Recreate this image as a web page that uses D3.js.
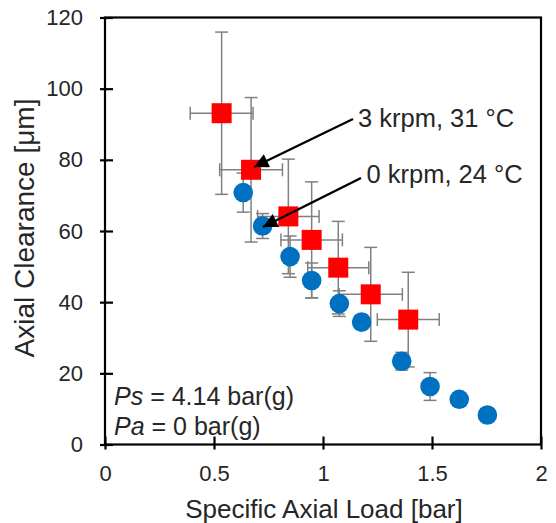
<!DOCTYPE html>
<html>
<head>
<meta charset="utf-8">
<script src="https://cdn.jsdelivr.net/npm/d3@7"></script>
<style>
  body { margin: 0; background: #fff; }
  text { font-family: "Liberation Sans", Arial, sans-serif; fill: #262626; }
  .axis path { display: none; }
  .axis line { stroke: #000; stroke-width: 2.2; }
</style>
</head>
<body>
<svg id="chart" width="556" height="523"></svg>
<script>
// tick labels
var xTicks = [0, 0.5, 1, 1.5, 2];
var yTicks = [0, 20, 40, 60, 80, 100, 120];

// 3 krpm, 31 °C (red squares)
var hotX    = [0.535, 0.670, 0.841, 0.948, 1.070, 1.219, 1.391];
var hotY    = [93.1, 77.2, 64.1, 57.5, 49.7, 42.2, 35.1];
var hotXErr = [0.144, 0.144, 0.141, 0.141, 0.140, 0.145, 0.142];
var hotYErr = [22.8, 20.3, 16.1, 16.3, 13.0, 13.2, 13.3];

// 0 krpm, 24 °C (blue circles)
var coldX    = [0.634, 0.723, 0.849, 0.948, 1.075, 1.177, 1.361, 1.491, 1.625, 1.754];
var coldY    = [70.8, 61.4, 52.8, 46.1, 39.6, 34.4, 23.4, 16.3, 12.7, 8.3];
var coldXErr = [0.02, 0.02, 0.02, 0.02, 0.02, 0.02, 0.02, 0.02, 0.02, 0.02];
var coldYErr = [5.5, 3.5, 5.8, 4.9, 3.6, 2.0, 2.5, 3.9, 1.5, 1.0];

var svg = d3.select('#chart');

var x = d3.scaleLinear().domain([0, 2]).range([105, 541]);
var y = d3.scaleLinear().domain([0, 120]).range([444.5, 17.5]);

// plot area border
svg.append('rect')
  .attr('x', x(0)).attr('y', y(120))
  .attr('width', x(2) - x(0)).attr('height', y(0) - y(120))
  .attr('fill', 'none').attr('stroke', '#000').attr('stroke-width', 2.2);

// axes: outer ticks with labels, then inner ticks (crossing tick marks)
svg.append('g').attr('class', 'axis')
  .attr('transform', 'translate(0,' + y(0) + ')')
  .call(d3.axisBottom(x).tickValues(xTicks).tickSize(5).tickPadding(16).tickFormat(d3.format('')));
svg.append('g').attr('class', 'axis')
  .attr('transform', 'translate(0,' + y(0) + ')')
  .call(d3.axisBottom(x).tickValues(xTicks).tickSize(-8).tickFormat(''));

svg.append('g').attr('class', 'axis')
  .attr('transform', 'translate(' + x(0) + ',0)')
  .call(d3.axisLeft(y).tickValues(yTicks).tickSize(5).tickPadding(17));
svg.append('g').attr('class', 'axis')
  .attr('transform', 'translate(' + x(0) + ',0)')
  .call(d3.axisLeft(y).tickValues(yTicks).tickSize(-8).tickFormat(''));

svg.selectAll('.axis text')
  .style('font-size', '22px')
  .style('font-family', '"Liberation Sans", Arial, sans-serif')
  .attr('fill', '#262626');

// axis titles
svg.append('text')
  .attr('x', 324).attr('y', 518)
  .attr('text-anchor', 'middle')
  .style('font-size', '26px')
  .text('Specific Axial Load [bar]');

svg.append('text')
  .attr('transform', 'translate(34,228) rotate(-90)')
  .attr('text-anchor', 'middle')
  .style('font-size', '28px')
  .text('Axial Clearance [μm]');

// error bars
function errorBars(xs, ys, xe, ye) {
  var g = svg.append('g').attr('stroke', '#808080').attr('stroke-width', 1.5);
  var cap = 6.5;
  xs.forEach(function(d, i) {
    var cx = x(d), cy = y(ys[i]);
    var y0 = y(ys[i] - ye[i]), y1 = y(ys[i] + ye[i]);
    var x0 = x(d - xe[i]), x1 = x(d + xe[i]);
    g.append('line').attr('x1', cx).attr('x2', cx).attr('y1', y0).attr('y2', y1);
    g.append('line').attr('x1', cx - cap).attr('x2', cx + cap).attr('y1', y0).attr('y2', y0);
    g.append('line').attr('x1', cx - cap).attr('x2', cx + cap).attr('y1', y1).attr('y2', y1);
    g.append('line').attr('x1', x0).attr('x2', x1).attr('y1', cy).attr('y2', cy);
    g.append('line').attr('x1', x0).attr('x2', x0).attr('y1', cy - cap).attr('y2', cy + cap);
    g.append('line').attr('x1', x1).attr('x2', x1).attr('y1', cy - cap).attr('y2', cy + cap);
  });
}
errorBars(hotX, hotY, hotXErr, hotYErr);
errorBars(coldX, coldY, coldXErr, coldYErr);

// markers
svg.append('g').selectAll('circle')
  .data(coldX)
  .enter().append('circle')
  .attr('cx', function(d) { return x(d); })
  .attr('cy', function(d, i) { return y(coldY[i]); })
  .attr('r', 9.8)
  .attr('fill', '#0070c0');

var sq = 20;
svg.append('g').selectAll('rect')
  .data(hotX)
  .enter().append('rect')
  .attr('x', function(d) { return x(d) - sq / 2; })
  .attr('y', function(d, i) { return y(hotY[i]) - sq / 2; })
  .attr('width', sq).attr('height', sq)
  .attr('fill', '#ff0000');

// arrows
svg.append('defs').append('marker')
  .attr('id', 'arrow')
  .attr('viewBox', '0 0 10 10')
  .attr('refX', 10).attr('refY', 5)
  .attr('markerWidth', 7).attr('markerHeight', 6)
  .attr('markerUnits', 'strokeWidth')
  .attr('orient', 'auto')
  .append('path').attr('d', 'M0,0 L10,5 L0,10 z').attr('fill', '#000');

svg.append('line')
  .attr('x1', 353).attr('y1', 119).attr('x2', 254).attr('y2', 167)
  .attr('stroke', '#000').attr('stroke-width', 2.4)
  .attr('marker-end', 'url(#arrow)');
svg.append('line')
  .attr('x1', 361).attr('y1', 178).attr('x2', 263).attr('y2', 227)
  .attr('stroke', '#000').attr('stroke-width', 2.4)
  .attr('marker-end', 'url(#arrow)');

svg.append('text').attr('x', 358).attr('y', 127)
  .style('font-size', '25.5px').text('3 krpm, 31 °C');
svg.append('text').attr('x', 366.5).attr('y', 183)
  .style('font-size', '25.5px').text('0 krpm, 24 °C');

// operating conditions
var ps = svg.append('text').attr('x', 114).attr('y', 405).style('font-size', '25px');
ps.append('tspan').style('font-style', 'italic').text('Ps');
ps.append('tspan').text(' = 4.14 bar(g)');
var pa = svg.append('text').attr('x', 114).attr('y', 435).style('font-size', '25px');
pa.append('tspan').style('font-style', 'italic').text('Pa');
pa.append('tspan').text(' = 0 bar(g)');
</script>
</body>
</html>
